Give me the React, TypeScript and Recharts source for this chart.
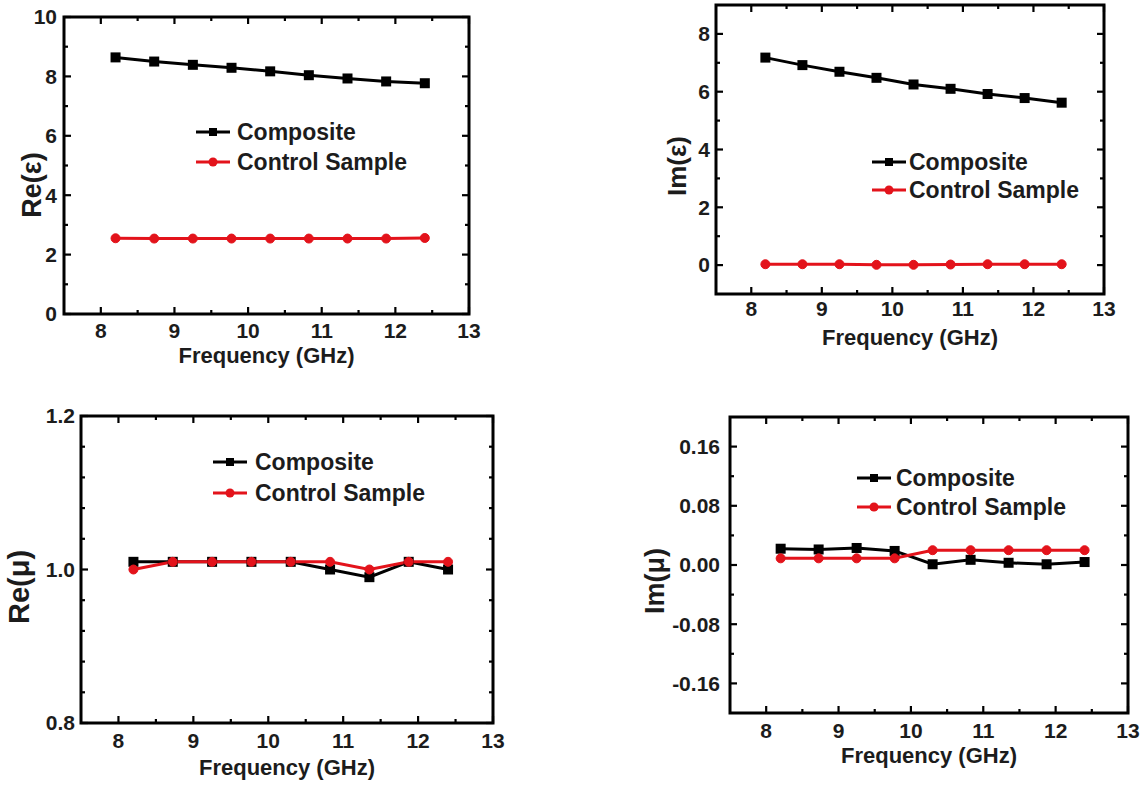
import React from 'react';
import { LineChart, Line, XAxis, YAxis, ReferenceArea, Legend } from 'recharts';

const FONT = '"Liberation Sans", Arial, Helvetica, sans-serif';
const RED = '#e3131b';
const TEXT = '#1c1c1c';

// ---- data ----
const frequency = [8.2, 8.725, 9.25, 9.775, 10.3, 10.825, 11.35, 11.875, 12.4];

const reEpsComposite = [8.64, 8.5, 8.39, 8.29, 8.17, 8.04, 7.93, 7.83, 7.77];
const reEpsControl = [2.55, 2.54, 2.54, 2.54, 2.54, 2.54, 2.54, 2.54, 2.56];

const imEpsComposite = [7.18, 6.92, 6.69, 6.48, 6.25, 6.1, 5.92, 5.78, 5.62];
const imEpsControl = [0.03, 0.03, 0.03, 0.01, 0.01, 0.02, 0.03, 0.03, 0.03];

const reMuComposite = [1.01, 1.01, 1.01, 1.01, 1.01, 1.0, 0.99, 1.01, 1.0];
const reMuControl = [1.0, 1.01, 1.01, 1.01, 1.01, 1.01, 1.0, 1.01, 1.01];

const imMuComposite = [0.022, 0.021, 0.023, 0.019, 0.001, 0.007, 0.003, 0.001, 0.004];
const imMuControl = [0.009, 0.009, 0.009, 0.009, 0.02, 0.02, 0.02, 0.02, 0.02];

const seriesNames = ['Composite', 'Control Sample'];

const xMajorTicks = [8, 9, 10, 11, 12, 13];
const xMinorTicks = [8.5, 9.5, 10.5, 11.5, 12.5];

const reEpsMajor = [0, 2, 4, 6, 8, 10];
const reEpsMinor = [1, 3, 5, 7, 9];
const imEpsMajor = [0, 2, 4, 6, 8];
const imEpsMinor = [1, 3, 5, 7];
const reMuMajor = [0.8, 1.0, 1.2];
const reMuMinor = [0.84, 0.88, 0.92, 0.96, 1.04, 1.08, 1.12, 1.16];
const imMuMajor = [-0.16, -0.08, 0, 0.08, 0.16];
const imMuMinor = [-0.12, -0.04, 0.04, 0.12];

const buildRows = (a: number[], b: number[]) =>
  frequency.map((f, i) => ({ f, composite: a[i], control: b[i] }));

type Box = { l: number; t: number; r: number; b: number };
type Cfg = {
  chart: { left: number; top: number; width: number; height: number };
  box: Box;
  yDomain: [number, number];
  yMajor: number[];
  yMinor: number[];
  yDigits: number;
  yTitle: string;
  yTitleX: number;
  yTitleY: number;
  yTitleSize: number;
  yGap: number;
  xLabelOffset: number;
  xTitleY: number;
  legendLineX: number;
  legendTextX: number;
  legendRow1: number;
  legendRowGap: number;
  data: { f: number; composite: number; control: number }[];
};

const panels: Cfg[] = [
  {
    chart: { left: 0, top: 0, width: 560, height: 380 },
    box: { l: 64, t: 17, r: 469, b: 314 },
    yDomain: [0, 10],
    yMajor: reEpsMajor,
    yMinor: reEpsMinor,
    yDigits: 0,
    yTitle: 'Re(ε)',
    yTitleX: 32,
    yTitleY: 185,
    yTitleSize: 27,
    yGap: 7,
    xLabelOffset: 17,
    xTitleY: 355,
    legendLineX: 196,
    legendTextX: 237,
    legendRow1: 132,
    legendRowGap: 30,
    data: buildRows(reEpsComposite, reEpsControl),
  },
  {
    chart: { left: 590, top: 0, width: 558, height: 380 },
    box: { l: 716, t: 5, r: 1104, b: 294 },
    yDomain: [-1, 9],
    yMajor: imEpsMajor,
    yMinor: imEpsMinor,
    yDigits: 0,
    yTitle: 'Im(ε)',
    yTitleX: 677,
    yTitleY: 166,
    yTitleSize: 26,
    yGap: 6,
    xLabelOffset: 15,
    xTitleY: 337,
    legendLineX: 872,
    legendTextX: 909,
    legendRow1: 162,
    legendRowGap: 28,
    data: buildRows(imEpsComposite, imEpsControl),
  },
  {
    chart: { left: 0, top: 385, width: 560, height: 400 },
    box: { l: 81, t: 416, r: 493, b: 723 },
    yDomain: [0.8, 1.2],
    yMajor: reMuMajor,
    yMinor: reMuMinor,
    yDigits: 1,
    yTitle: 'Re(μ)',
    yTitleX: 19,
    yTitleY: 587,
    yTitleSize: 29,
    yGap: 6,
    xLabelOffset: 18,
    xTitleY: 767,
    legendLineX: 213,
    legendTextX: 255,
    legendRow1: 462,
    legendRowGap: 31,
    data: buildRows(reMuComposite, reMuControl),
  },
  {
    chart: { left: 590, top: 385, width: 558, height: 400 },
    box: { l: 730, t: 417, r: 1128, b: 713 },
    yDomain: [-0.2, 0.2],
    yMajor: imMuMajor,
    yMinor: imMuMinor,
    yDigits: 2,
    yTitle: 'Im(μ)',
    yTitleX: 655,
    yTitleY: 581,
    yTitleSize: 27,
    yGap: 10,
    xLabelOffset: 18,
    xTitleY: 755,
    legendLineX: 857,
    legendTextX: 896,
    legendRow1: 478,
    legendRowGap: 29,
    data: buildRows(imMuComposite, imMuControl),
  },
];

const isIn = (v: number, arr: number[]) => arr.some((a) => Math.abs(a - v) < 1e-9);

const SquareDot = (props: any) => {
  const { cx, cy } = props;
  if (cx == null || cy == null) return null;
  return <rect x={cx - 5} y={cy - 5} width={10} height={10} fill="#000" />;
};

const Panel = ({ cfg }: { cfg: Cfg }) => {
  const { chart, box } = cfg;
  const lb = {
    l: box.l - chart.left,
    t: box.t - chart.top,
    r: box.r - chart.left,
    b: box.b - chart.top,
  };
  const margin = { top: lb.t, right: chart.width - lb.r, bottom: 0, left: 0 };
  const yAxisWidth = lb.l;
  const xAxisHeight = chart.height - lb.b;

  const XTick = (props: any) => {
    const { x, payload } = props;
    const v = payload.value;
    const major = isIn(v, xMajorTicks);
    const len = major ? 7 : 4;
    return (
      <g>
        <line x1={x} x2={x} y1={lb.b} y2={lb.b - len} stroke="#000" strokeWidth={2.2} />
        <line x1={x} x2={x} y1={lb.t} y2={lb.t + len} stroke="#000" strokeWidth={2.2} />
        {major && (
          <text
            x={x}
            y={lb.b + cfg.xLabelOffset}
            dy="0.35em"
            textAnchor="middle"
            fontFamily={FONT}
            fontWeight="bold"
            fontSize={21}
            fill={TEXT}
          >
            {String(v)}
          </text>
        )}
      </g>
    );
  };

  const YTick = (props: any) => {
    const { y, payload } = props;
    const v = payload.value;
    const major = isIn(v, cfg.yMajor);
    const len = major ? 7 : 4;
    return (
      <g>
        <line x1={lb.l} x2={lb.l + len} y1={y} y2={y} stroke="#000" strokeWidth={2.2} />
        <line x1={lb.r} x2={lb.r - len} y1={y} y2={y} stroke="#000" strokeWidth={2.2} />
        {major && (
          <text
            x={lb.l - cfg.yGap}
            y={y}
            dy="0.35em"
            textAnchor="end"
            fontFamily={FONT}
            fontWeight="bold"
            fontSize={21}
            fill={TEXT}
          >
            {Math.abs(v) < 1e-12 ? (0).toFixed(cfg.yDigits) : v.toFixed(cfg.yDigits)}
          </text>
        )}
      </g>
    );
  };

  const xTitle = (p: any) => {
    const vb = p.viewBox || { x: lb.l, width: lb.r - lb.l };
    return (
      <text
        x={vb.x + vb.width / 2}
        y={cfg.xTitleY - chart.top}
        dy="0.35em"
        textAnchor="middle"
        fontFamily={FONT}
        fontWeight="bold"
        fontSize={22}
        fill={TEXT}
      >
        Frequency (GHz)
      </text>
    );
  };

  const yTitle = () => {
    const tx = cfg.yTitleX - chart.left;
    const ty = cfg.yTitleY - chart.top;
    return (
      <text
        transform={`translate(${tx},${ty}) rotate(-90)`}
        dy="0.35em"
        textAnchor="middle"
        fontFamily={FONT}
        fontWeight="bold"
        fontSize={cfg.yTitleSize}
        fill={TEXT}
      >
        {cfg.yTitle}
      </text>
    );
  };

  const iconW = cfg.legendTextX - cfg.legendLineX;
  const LegendContent = () => (
    <div
      style={{
        fontFamily: FONT,
        fontWeight: 'bold',
        fontSize: 23,
        color: TEXT,
        lineHeight: 1,
      }}
    >
      {seriesNames.map((name, i) => {
        const color = i === 0 ? '#000' : RED;
        return (
          <div
            key={name}
            style={{ display: 'flex', alignItems: 'center', height: cfg.legendRowGap, whiteSpace: 'nowrap' }}
          >
            <svg width={iconW} height={14} style={{ display: 'block', flex: 'none' }}>
              <line x1={0} x2={34} y1={7} y2={7} stroke={color} strokeWidth={3} />
              {i === 0 ? (
                <rect x={17 - 4} y={3} width={8} height={8} fill="#000" />
              ) : (
                <circle cx={17} cy={7} r={4.5} fill={RED} />
              )}
            </svg>
            <span>{name}</span>
          </div>
        );
      })}
    </div>
  );

  return (
    <div style={{ position: 'absolute', left: chart.left, top: chart.top }}>
      <LineChart width={chart.width} height={chart.height} data={cfg.data} margin={margin}>
        <XAxis
          type="number"
          dataKey="f"
          domain={[7.5, 13]}
          ticks={[...xMajorTicks, ...xMinorTicks].sort((a, b) => a - b)}
          interval={0}
          height={xAxisHeight}
          axisLine={false}
          tickLine={false}
          tickSize={0}
          tick={<XTick />}
          label={xTitle}
          allowDataOverflow
        />
        <YAxis
          type="number"
          domain={cfg.yDomain}
          ticks={[...cfg.yMajor, ...cfg.yMinor].sort((a, b) => a - b)}
          interval={0}
          width={yAxisWidth}
          axisLine={false}
          tickLine={false}
          tickSize={0}
          tick={<YTick />}
          label={yTitle}
          allowDataOverflow
        />
        <ReferenceArea
          x1={7.5}
          x2={13}
          y1={cfg.yDomain[0]}
          y2={cfg.yDomain[1]}
          fill="none"
          fillOpacity={0}
          stroke="#000"
          strokeWidth={3}
          strokeOpacity={1}
          ifOverflow="visible"
        />
        <Legend
          layout="vertical"
          align="center"
          verticalAlign="middle"
          content={<LegendContent />}
          wrapperStyle={{
            left: cfg.legendLineX - chart.left,
            top: cfg.legendRow1 - cfg.legendRowGap / 2 - chart.top,
            width: 300,
          }}
        />
        <Line
          type="linear"
          dataKey="composite"
          name={seriesNames[0]}
          stroke="#000"
          strokeWidth={3}
          dot={<SquareDot />}
          activeDot={false}
          isAnimationActive={false}
        />
        <Line
          type="linear"
          dataKey="control"
          name={seriesNames[1]}
          stroke={RED}
          strokeWidth={3}
          dot={{ r: 4.5, fill: RED, stroke: RED, strokeWidth: 1 }}
          activeDot={false}
          isAnimationActive={false}
        />
      </LineChart>
    </div>
  );
}

export default function App() {
  return (
    <div
      style={{
        position: 'absolute',
        left: 0,
        top: 0,
        width: 1148,
        height: 785,
        background: '#fff',
        overflow: 'hidden',
      }}
    >
      {panels.map((p, i) => (
        <Panel key={i} cfg={p} />
      ))}
    </div>
  );
}
